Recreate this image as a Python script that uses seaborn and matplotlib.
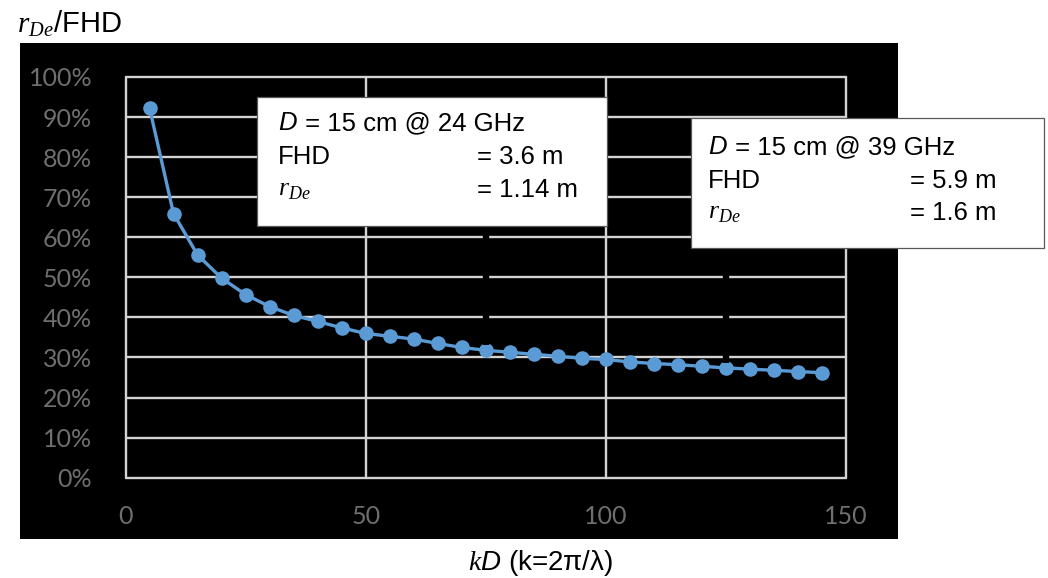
import numpy as np
import matplotlib
matplotlib.use("Agg")
import matplotlib.pyplot as plt
from matplotlib.patches import Rectangle
from matplotlib.ticker import PercentFormatter
import seaborn as sns

# ---- data ----
kd = [5, 10, 15, 20, 25, 30, 35, 40, 45, 50, 55, 60, 65, 70, 75,
      80, 85, 90, 95, 100, 105, 110, 115, 120, 125, 130, 135, 140, 145]
ratio = [0.923, 0.659, 0.556, 0.498, 0.457, 0.427, 0.405, 0.390, 0.374, 0.360,
         0.353, 0.346, 0.335, 0.325, 0.318, 0.313, 0.308, 0.303, 0.298, 0.295,
         0.289, 0.285, 0.282, 0.278, 0.274, 0.271, 0.268, 0.265, 0.262]
x_ticks = [0, 50, 100, 150]
y_ticks = [0.0, 0.1, 0.2, 0.3, 0.4, 0.5, 0.6, 0.7, 0.8, 0.9, 1.0]
marker_kd = [75, 125]          # annotation leader positions
box1_lines = ["15 cm @ 24 GHz", "= 3.6 m", "= 1.14 m"]
box2_lines = ["15 cm @ 39 GHz", "= 5.9 m", "= 1.6 m"]

sns.set_style("white")
plt.rcParams["font.family"] = ["Liberation Sans", "DejaVu Sans"]
plt.rcParams["text.color"] = "black"
plt.rcParams["mathtext.fontset"] = "custom"
plt.rcParams["mathtext.it"] = "Liberation Sans:italic"
plt.rcParams["mathtext.rm"] = "Liberation Sans"
plt.rcParams["mathtext.cal"] = "Liberation Serif:italic"

W, H = 1048, 578
fig = plt.figure(figsize=(W / 100, H / 100), dpi=100)
fig.patch.set_facecolor("white")

# black chart panel
panel = Rectangle((20 / W, 1 - 539 / H), (898 - 20) / W, (539 - 43) / H,
                  transform=fig.transFigure, facecolor="black", edgecolor="none", zorder=-10)
fig.patches.append(panel)

ax = fig.add_axes([125.5 / W, 1 - 477.7 / H, (846 - 125.5) / W, (477.7 - 77) / H])
ax.set_zorder(1)
ax.set_facecolor("none")
ax.set_xlim(0, 150)
ax.set_ylim(0, 1)
ax.set_xticks(x_ticks)
ax.set_yticks(y_ticks)
ax.yaxis.set_major_formatter(PercentFormatter(1.0, decimals=0))
for s in ax.spines.values():
    s.set_visible(False)
ax.grid(True, color="#d4d4d4", lw=1.7)
for gl in ax.get_xgridlines() + ax.get_ygridlines():
    gl.set_clip_on(False)
ax.set_axisbelow(True)

ax.tick_params(axis="both", length=0, colors="#6f6f6f")
ax.tick_params(axis="y", pad=24)
ax.tick_params(axis="x", pad=20)
for lab in ax.get_xticklabels() + ax.get_yticklabels():
    lab.set_fontfamily(["Lato", "DejaVu Sans"])
    lab.set_fontsize(18)
    lab.set_color("#6f6f6f")

sns.lineplot(x=kd, y=ratio, ax=ax, color="#5B9BD5", lw=2.4, marker="o",
             markersize=10.5, markeredgewidth=0, zorder=3)

# black leader lines from points to boxes
box1 = (27.4, 0.628, 100.3 - 27.4, 0.950 - 0.628)
box2 = (117.7, 0.573, 191.2 - 117.7, 0.897 - 0.573)
tops = [box1[1], box2[1]]
for xk, top in zip(marker_kd, tops):
    yv = ratio[kd.index(xk)]
    ax.vlines(xk, yv + 0.012, top, colors="black", lw=4.6, zorder=4)

for (bx, by, bw, bh) in (box1, box2):
    ax.add_patch(Rectangle((bx, by), bw, bh, facecolor="white", edgecolor="#595959",
                           lw=0.9, clip_on=False, zorder=5))

fs_box = 18.5
def box_text(x0, xeq, ys, lines):
    t = ax.text(x0, ys[0], "$D$", fontsize=fs_box, va="center", ha="left",
                zorder=6, clip_on=False, color="black")
    ax.annotate(" = " + lines[0], xy=(1, 0), xycoords=t, va="bottom", ha="left",
                fontsize=fs_box, zorder=6, annotation_clip=False, color="black")
    ax.text(x0, ys[1], "FHD", fontsize=fs_box, va="center", ha="left", zorder=6,
            clip_on=False, color="black")
    ax.text(xeq, ys[1], lines[1], fontsize=fs_box, va="center", ha="left", zorder=6,
            clip_on=False, color="black")
    ax.text(x0, ys[2], r"$\mathcal{r}_{\mathcal{De}}$", fontsize=fs_box, va="center",
            ha="left", zorder=6, clip_on=False, color="black")
    ax.text(xeq, ys[2], lines[2], fontsize=fs_box, va="center", ha="left", zorder=6,
            clip_on=False, color="black")

box_text(31.75, 73.2, [0.885, 0.800, 0.7175], box1_lines)
box_text(121.3, 163.3, [0.825, 0.740, 0.660], box2_lines)

# axis titles
fig.text(17 / W, 1 - 24 / H, r"$\mathcal{r}_{\mathcal{De}}$/FHD", fontsize=21,
         ha="left", va="center", color="black")
fig.text(541 / W, 1 - 563 / H, r"$\mathcal{k}D$ (k=2π/λ)", fontsize=20,
         ha="center", va="center", color="black")

fig.savefig("out.png", dpi=100, facecolor="white")
